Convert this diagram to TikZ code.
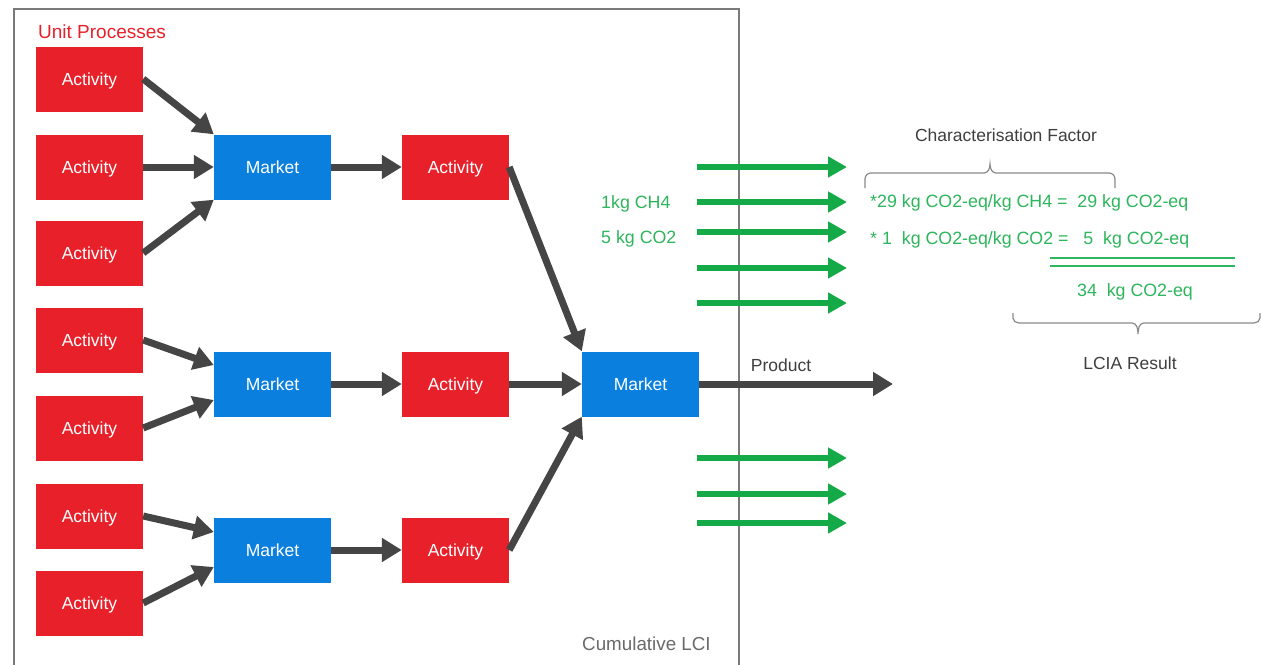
\documentclass[tikz,border=0pt]{standalone}
\usepackage{fontspec}
\setmainfont{Liberation Sans}
\usetikzlibrary{arrows.meta}
\definecolor{actred}{HTML}{E8202A}
\definecolor{mktblue}{HTML}{0A7FDE}
\definecolor{flowgreen}{HTML}{14AA48}
\definecolor{txtgreen}{HTML}{2DB65C}
\definecolor{arrowgray}{HTML}{454545}
\definecolor{txtgray}{HTML}{3F3F3F}
\definecolor{lcigray}{HTML}{6A6A6A}
\definecolor{framegray}{HTML}{7A7A7A}
\definecolor{bracegray}{HTML}{8A8A8A}

\begin{document}
\begin{tikzpicture}[x=1pt,y=-1pt,
  box/.style={minimum height=65pt,inner sep=0pt,text=white,text depth=0pt,
    font=\fontsize{17.5}{20}\selectfont},
  activity/.style={box,minimum width=107pt,fill=actred},
  market/.style={box,minimum width=117pt,fill=mktblue},
  flow/.style={draw=arrowgray,line width=7pt,-{Triangle[length=20pt,width=23pt]}},
  emission/.style={draw=flowgreen,line width=6.5pt,-{Triangle[length=19pt,width=20pt]}},
  greentext/.style={text=txtgreen,font=\fontsize{17.8}{20}\selectfont,inner sep=0pt},
  graytext/.style={text=txtgray,font=\fontsize{17.5}{20}\selectfont,inner sep=0pt},
  brace/.style={draw=bracegray,line width=1.2pt}]

\useasboundingbox (0,0) rectangle (1261,664);
\fill[white] (0,0) rectangle (1261,664);

% system boundary of the cumulative inventory
\draw[framegray,line width=1.2pt] (14,670) -- (14,9) -- (739,9) -- (739,670);
\node[anchor=west,text=actred,font=\fontsize{19}{20}\selectfont,inner sep=0pt] (up) at (38,32) {Unit Processes};
\node[anchor=west,text=lcigray,font=\fontsize{18.8}{20}\selectfont,inner sep=0pt] (lci) at (582,644) {Cumulative LCI};

% unit process activities
\node[activity] (a1) at (89.5,79) {Activity};
\node[activity] (a2) at (89.5,167) {Activity};
\node[activity] (a3) at (89.5,253) {Activity};
\node[activity] (a4) at (89.5,340) {Activity};
\node[activity] (a5) at (89.5,428) {Activity};
\node[activity] (a6) at (89.5,516) {Activity};
\node[activity] (a7) at (89.5,603) {Activity};

% markets and downstream activities
\node[market] (m1) at (272.5,167) {Market};
\node[market] (m2) at (272.5,384) {Market};
\node[market] (m3) at (272.5,550) {Market};
\node[activity] (b1) at (455.5,167) {Activity};
\node[activity] (b2) at (455.5,384) {Activity};
\node[activity] (b3) at (455.5,550) {Activity};
\node[market] (f) at (640.5,384) {Market};

\draw[flow] (a1.east) -- (m1.north west);
\draw[flow] (a2.east) -- (m1.west);
\draw[flow] (a3.east) -- (m1.south west);
\draw[flow] (a4.east) -- ([yshift=19pt]m2.west);
\draw[flow] (a5.east) -- ([yshift=-16pt]m2.west);
\draw[flow] (a6.east) -- ([yshift=18pt]m3.west);
\draw[flow] (a7.east) -- ([yshift=-17pt]m3.west);
\draw[flow] (m1.east) -- (b1.west);
\draw[flow] (m2.east) -- (b2.west);
\draw[flow] (m3.east) -- (b3.west);
\draw[flow] (b1.east) -- (f.north west);
\draw[flow] (b2.east) -- (f.west);
\draw[flow] (b3.east) -- (f.south west);

% reference product leaving the system
\coordinate (prod) at (893,384);
\draw[flow] (f.east) -- (prod);
\node[graytext] (prodlbl) at (781,365) {Product};

% elementary flows
\foreach \y [count=\i] in {167,202,232,268,303,458,494,523}{
  \coordinate (e\i s) at (697,\y);
  \coordinate (e\i e) at (847,\y);
  \draw[emission] (e\i s) -- (e\i e);
}
\node[greentext,anchor=west] (ch4) at (601,204) {1kg CH4};
\node[greentext,anchor=west] (co2) at (601,239) {5 kg CO2};

% characterisation
\node[graytext] (cf) at (1006,135) {Characterisation Factor};
\draw[brace] (865,188) -- (865,179) to[out=90,in=180] (871,173) -- (984,173)
  to[out=0,in=-90] (990,164) to[out=-90,in=180] (996,173) -- (1109,173)
  to[out=0,in=90] (1115,179) -- (1115,188);
\node[greentext,anchor=west] (eq1) at (870,203) {*29 kg CO2-eq/kg CH4 =~~29 kg CO2-eq};
\node[greentext,anchor=west] (eq2) at (870,240) {*~1~~kg CO2-eq/kg CO2 =~~~5~~kg CO2-eq};
\draw[txtgreen,line width=2.5pt] (1050,258) -- (1235,258);
\draw[txtgreen,line width=2.5pt] (1050,266) -- (1235,266);
\node[greentext] (sum) at (1135,292) {34~~kg CO2-eq};
\draw[brace] (1013,313) -- (1013,318) to[out=-90,in=180] (1019,323) -- (1132,323)
  to[out=0,in=90] (1138,334) to[out=90,in=180] (1144,323) -- (1254,323)
  to[out=0,in=-90] (1260,318) -- (1260,313);
\node[graytext] (lcia) at (1130,363) {LCIA Result};
\end{tikzpicture}
\end{document}
